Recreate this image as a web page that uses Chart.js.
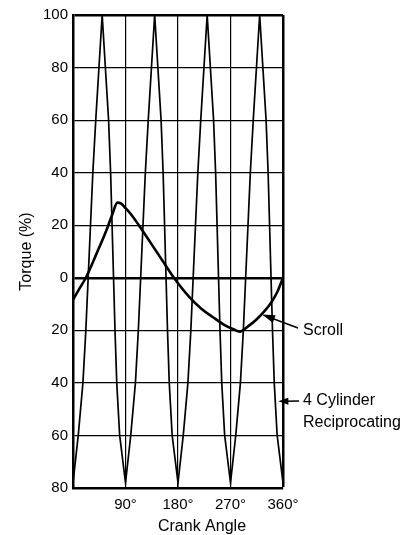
<!DOCTYPE html>
<html>
<head>
<meta charset="utf-8">
<script src="https://cdn.jsdelivr.net/npm/chart.js@4"></script>
<style>
  html, body { margin: 0; padding: 0; background: #fff; }
  #grafico { display: block; }
</style>
</head>
<body>
<canvas id="grafico" width="419" height="535"></canvas>
<script>
// crank angle (deg) / torque (%)
const cylAngles = [
  0, 9, 17, 22, 26, 30, 34, 39, 44.5, 50, 55.5, 61, 64.5, 67, 69.5, 72, 75, 80,
  90, 99, 107, 112, 116, 120, 124, 129, 134.5, 140, 145.5, 151, 154.5, 157, 159.5, 162, 165, 170,
  180, 189, 197, 202, 206, 210, 214, 219, 224.5, 230, 235.5, 241, 244.5, 247, 249.5, 252, 255, 260,
  270, 279, 287, 292, 296, 300, 304, 309, 314.5, 320, 325.5, 331, 334.5, 337, 339.5, 342, 345, 350,
  360
];
const cylTorque = [
  -78, -60, -40, -20, 0, 20, 40, 60, 80, 100, 80, 60, 40, 20, 0, -20, -40, -60,
  -78, -60, -40, -20, 0, 20, 40, 60, 80, 100, 80, 60, 40, 20, 0, -20, -40, -60,
  -78, -60, -40, -20, 0, 20, 40, 60, 80, 100, 80, 60, 40, 20, 0, -20, -40, -60,
  -78, -60, -40, -20, 0, 20, 40, 60, 80, 100, 80, 60, 40, 20, 0, -20, -40, -60,
  -78
];

const scrollAngles = [0, 10, 22, 40, 58, 68, 76, 82, 90, 100, 119, 140, 160, 173, 200, 220, 240, 260, 275, 286, 300, 315, 338, 350, 360];
const scrollTorque = [-8.4, -4.5, 0, 9, 18.5, 24.5, 28.6, 28.3, 26.5, 24, 18, 11, 4.3, 0, -7.5, -11.8, -15, -18, -19.6, -20.5, -18.5, -15.8, -10, -5.5, 0];

const xTicks = [0, 90, 180, 270, 360];
const xTickLabels = ['', '90°', '180°', '270°', '360°'];
const yMin = -80;
const yMax = 100;
const yStep = 20;

const FONTE = '"Liberation Sans", Arial, Helvetica, sans-serif';
Chart.defaults.font.family = FONTE;
Chart.defaults.color = '#000';

const toPoints = (xs, ys) => xs.map((x, i) => ({ x: x, y: ys[i] }));

function seta(ctx, x1, y1, x2, y2, cabeca, largura) {
  const ang = Math.atan2(y2 - y1, x2 - x1);
  ctx.beginPath();
  ctx.moveTo(x1, y1);
  ctx.lineTo(x2 - Math.cos(ang) * cabeca * 0.6, y2 - Math.sin(ang) * cabeca * 0.6);
  ctx.stroke();
  ctx.beginPath();
  ctx.moveTo(x2, y2);
  ctx.lineTo(x2 - Math.cos(ang) * cabeca + Math.sin(ang) * largura,
             y2 - Math.sin(ang) * cabeca - Math.cos(ang) * largura);
  ctx.lineTo(x2 - Math.cos(ang) * cabeca - Math.sin(ang) * largura,
             y2 - Math.sin(ang) * cabeca + Math.cos(ang) * largura);
  ctx.closePath();
  ctx.fill();
}

const anotacoes = {
  id: 'anotacoes',
  afterDraw(chart) {
    const ctx = chart.ctx;
    const xs = chart.scales.x;
    const ys = chart.scales.y;
    ctx.save();
    ctx.fillStyle = '#000';
    ctx.strokeStyle = '#000';
    ctx.lineWidth = 1.5;
    ctx.font = '16px ' + FONTE;
    ctx.textBaseline = 'middle';

    // x axis title, sits right of the plot centre in the original
    ctx.textAlign = 'center';
    ctx.fillText('Crank Angle', 202, 527);

    ctx.textAlign = 'left';
    ctx.fillText('Scroll', 303, 331);
    seta(ctx, 298, 328, xs.getPixelForValue(324), ys.getPixelForValue(-14), 13, 4);

    ctx.fillText('4 Cylinder', 303, 401);
    ctx.fillText('Reciprocating', 303, 423);
    seta(ctx, 299, 401, xs.getPixelForValue(352), ys.getPixelForValue(-47), 10, 3.5);
    ctx.restore();
  }
};

new Chart(document.getElementById('grafico'), {
  type: 'line',
  data: {
    datasets: [
      {
        label: '4 Cylinder Reciprocating',
        data: toPoints(cylAngles, cylTorque),
        borderColor: '#000',
        borderWidth: 1.7,
        pointRadius: 0,
        tension: 0
      },
      {
        label: 'Scroll',
        data: toPoints(scrollAngles, scrollTorque),
        borderColor: '#000',
        borderWidth: 2.6,
        pointRadius: 0,
        cubicInterpolationMode: 'monotone'
      }
    ]
  },
  options: {
    responsive: false,
    animation: false,
    devicePixelRatio: 1,
    layout: { padding: { left: 0, top: 15, right: 136, bottom: 0 } },
    plugins: {
      legend: { display: false },
      tooltip: { enabled: false }
    },
    scales: {
      x: {
        type: 'linear',
        min: 0,
        max: 360,
        afterFit: (axis) => { axis.height = 47; },
        afterBuildTicks: (axis) => { axis.ticks = xTicks.map(v => ({ value: v })); },
        ticks: {
          padding: 8,
          font: { size: 15 },
          maxRotation: 0,
          callback: (value) => xTickLabels[xTicks.indexOf(value)]
        },
        grid: {
          color: '#000',
          drawTicks: false,
          lineWidth: (c) => (c.tick && c.tick.value === 360 ? 2.5 : 1.2)
        },
        border: { color: '#000', width: 2.5 }
      },
      y: {
        min: yMin,
        max: yMax,
        afterFit: (axis) => { axis.width = 73; },
        ticks: {
          stepSize: yStep,
          padding: 5,
          font: { size: 15 },
          callback: (value) => Math.abs(value)
        },
        grid: {
          color: '#000',
          drawTicks: false,
          lineWidth: (c) => {
            if (!c.tick) return 1.2;
            if (c.tick.value === 0 || c.tick.value === yMax) return 2.5;
            return 1.2;
          }
        },
        border: { color: '#000', width: 2.5 },
        title: {
          display: true,
          text: 'Torque (%)',
          font: { size: 16 },
          padding: { top: 17, bottom: 0 }
        }
      }
    }
  },
  plugins: [anotacoes]
});
</script>
</body>
</html>
